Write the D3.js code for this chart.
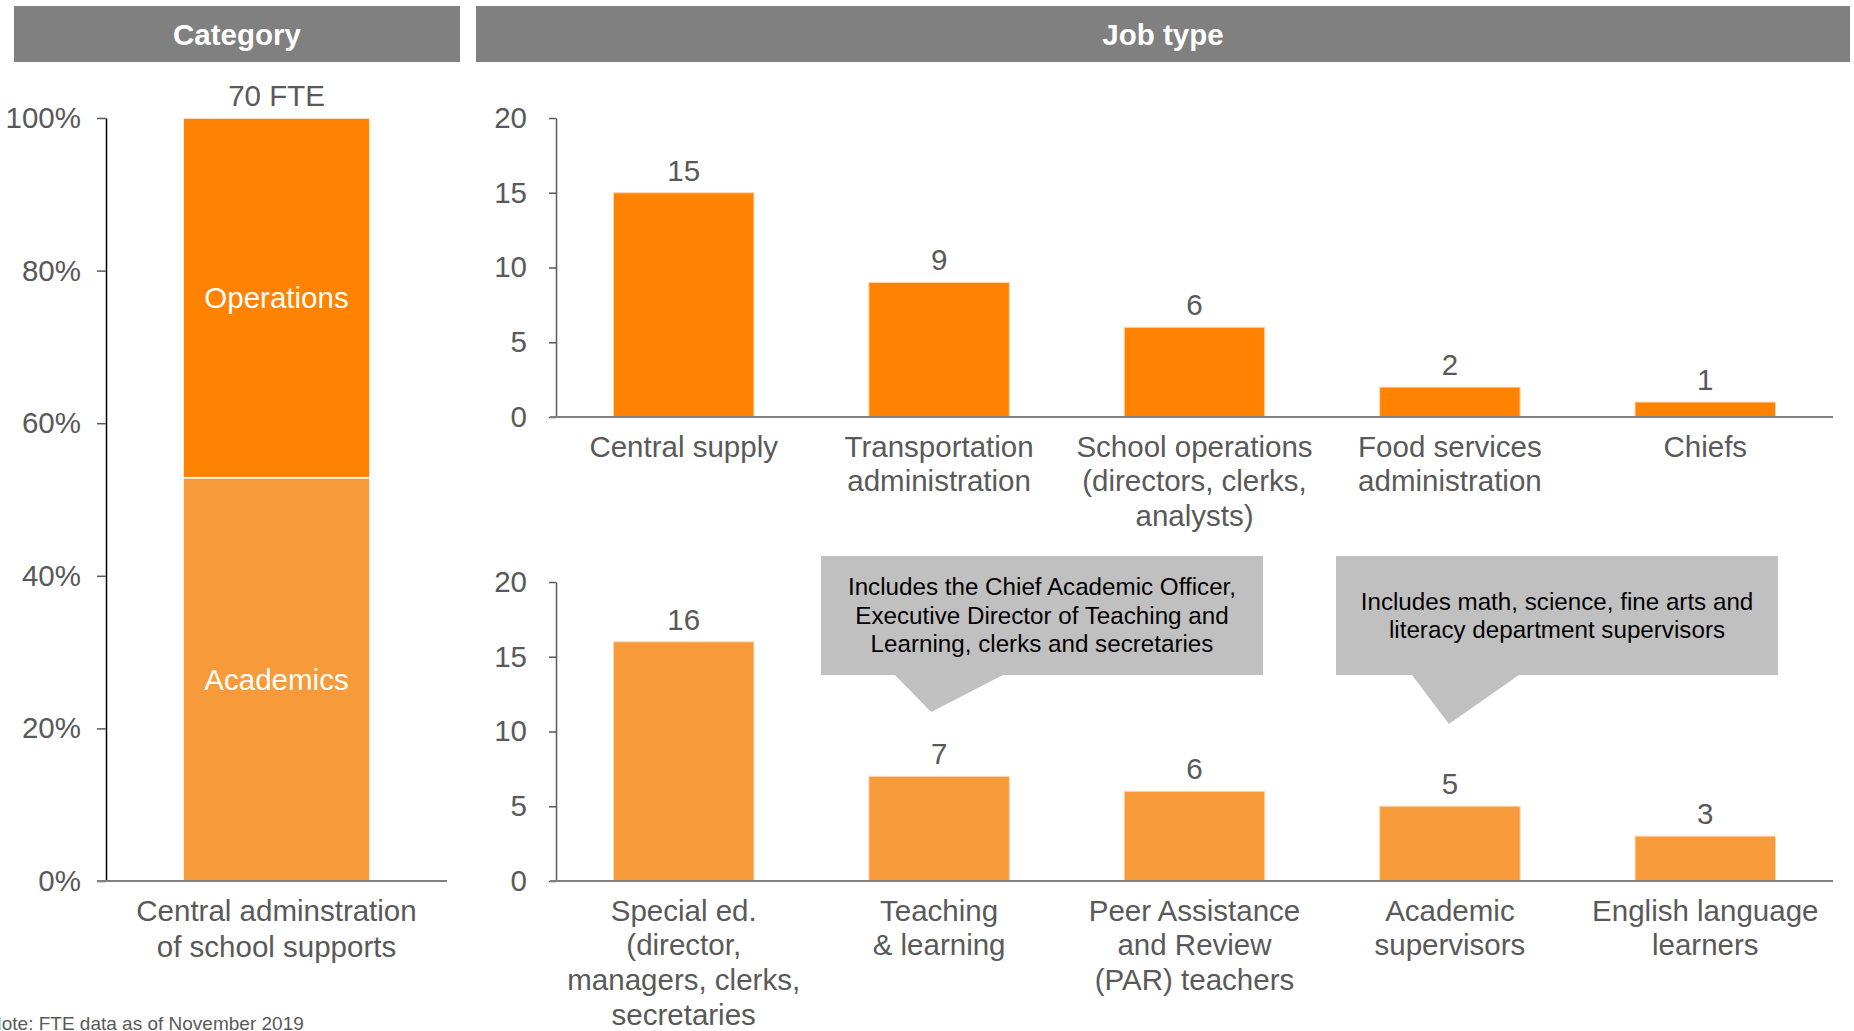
<!DOCTYPE html>
<html><head><meta charset="utf-8">
<script src="https://cdn.jsdelivr.net/npm/d3@7"></script>
<style>
html,body{margin:0;padding:0;background:#fff;overflow:hidden}
text{font-family:"Liberation Sans",Arial,sans-serif}
</style></head>
<body><svg id="c" width="1854" height="1031"></svg>
<script>
// ---- data ----
const categoryName = ["Central adminstration", "of school supports"];
const categoryTotal = "70 FTE";
const segments = ["Academics", "Operations"];
const segmentValues = [37, 33];
const pctTicks = [0, 0.2, 0.4, 0.6, 0.8, 1.0];

const opsJobs = [["Central supply"], ["Transportation", "administration"], ["School operations", "(directors, clerks,", "analysts)"], ["Food services", "administration"], ["Chiefs"]];
const opsValues = [15, 9, 6, 2, 1];
const acadJobs = [["Special ed.", "(director,", "managers, clerks,", "secretaries"], ["Teaching", "& learning"], ["Peer Assistance", "and Review", "(PAR) teachers"], ["Academic", "supervisors"], ["English language", "learners"]];
const acadValues = [16, 7, 6, 5, 3];
const countTicks = [0, 5, 10, 15, 20];

const callouts = [
  {job: 1, lines: ["Includes the Chief Academic Officer,", "Executive Director of Teaching and", "Learning, clerks and secretaries"]},
  {job: 3, lines: ["Includes math, science, fine arts and", "literacy department supervisors"]}
];
const headers = ["Category", "Job type"];
const note = "Note: FTE data as of November 2019";

// ---- style ----
const C_OPS = "#FF8200", C_ACAD = "#F79A3A", C_TXT = "#595959", C_HDR = "#808080", C_CALL = "#C0C0C0";
const FS = 29.5;
const svg = d3.select("#c");

// headers
const hdr = [[14, 460], [476, 1850]];
headers.forEach((h, i) => {
  svg.append("rect").attr("x", hdr[i][0]).attr("y", 6).attr("width", hdr[i][1] - hdr[i][0]).attr("height", 56).attr("fill", C_HDR);
  svg.append("text").attr("x", (hdr[i][0] + hdr[i][1]) / 2).attr("y", 35).attr("dy", "0.35em")
    .attr("text-anchor", "middle").attr("fill", "#fff").attr("font-weight", "bold").attr("font-size", FS).text(h);
});

// ---- left stacked chart ----
const total = d3.sum(segmentValues);
const yP = d3.scaleLinear().domain([0, 1]).range([881, 118]);
const xL = d3.scaleBand().domain(["cat"]).range([106, 447]).paddingInner(0.292).paddingOuter(0.292);
const stackData = [{}];
segments.forEach((s, i) => stackData[0][s] = segmentValues[i] / total);
const stacked = d3.stack().keys(segments)(stackData);
const segColor = {Academics: C_ACAD, Operations: C_OPS};
const gL = svg.append("g");
stacked.forEach(layer => {
  const d = layer[0];
  gL.append("rect").attr("x", xL("cat")).attr("width", xL.bandwidth())
    .attr("y", yP(d[1])).attr("height", yP(d[0]) - yP(d[1]))
    .attr("fill", segColor[layer.key]).attr("stroke", "#fff").attr("stroke-width", 1.5);
  gL.append("text").attr("x", xL("cat") + xL.bandwidth() / 2).attr("y", (yP(d[0]) + yP(d[1])) / 2)
    .attr("dy", "0.35em").attr("text-anchor", "middle").attr("fill", "#fff").attr("font-size", FS).text(layer.key);
});
gL.append("text").attr("x", xL("cat") + xL.bandwidth() / 2).attr("y", yP(1) - 12)
  .attr("text-anchor", "middle").attr("fill", C_TXT).attr("font-size", FS).text(categoryTotal);
const axL = gL.append("g").attr("transform", "translate(106,0)")
  .call(d3.axisLeft(yP).tickValues(pctTicks).tickFormat(d3.format(".0%")).tickSizeInner(9).tickSizeOuter(0).tickPadding(16));
axL.select(".domain").attr("stroke", "#000").attr("stroke-width", 1.5);
axL.selectAll(".tick line").attr("stroke", "#595959").attr("stroke-width", 1.5);
axL.selectAll(".tick text").attr("fill", C_TXT).attr("font-size", FS).attr("font-family", "Liberation Sans, Arial, sans-serif");
gL.append("line").attr("x1", 97).attr("x2", 447).attr("y1", 881).attr("y2", 881).attr("stroke", "#808080").attr("stroke-width", 2);
categoryName.forEach((t, i) => gL.append("text").attr("x", xL("cat") + xL.bandwidth() / 2).attr("y", 921 + i * 35.5)
  .attr("text-anchor", "middle").attr("fill", C_TXT).attr("font-size", FS).text(t));

// ---- right charts ----
function barChart(jobs, values, color, y0, y1) {
  const keys = jobs.map(j => j.join(" "));
  const x = d3.scaleBand().domain(keys).range([556, 1833]).paddingInner(0.45).paddingOuter(0.225);
  const y = d3.scaleLinear().domain([0, 20]).range([y0, y1]);
  const g = svg.append("g");
  g.selectAll("rect.bar").data(values).join("rect").attr("class", "bar")
    .attr("x", (d, i) => x(keys[i])).attr("width", x.bandwidth())
    .attr("y", d => y(d)).attr("height", d => y(0) - y(d))
    .attr("fill", color).attr("stroke", "#FBD7B0").attr("stroke-width", 1);
  g.selectAll("text.val").data(values).join("text").attr("class", "val")
    .attr("x", (d, i) => x(keys[i]) + x.bandwidth() / 2).attr("y", d => y(d) - 12)
    .attr("text-anchor", "middle").attr("fill", C_TXT).attr("font-size", FS).text(d => d);
  const ax = g.append("g").attr("transform", "translate(556,0)")
    .call(d3.axisLeft(y).tickValues(countTicks).tickSizeInner(7).tickSizeOuter(0).tickPadding(22));
  ax.select(".domain").attr("stroke", "#595959").attr("stroke-width", 1.5);
  ax.selectAll(".tick line").attr("stroke", "#595959").attr("stroke-width", 1.5);
  ax.selectAll(".tick text").attr("fill", C_TXT).attr("font-size", FS).attr("font-family", "Liberation Sans, Arial, sans-serif");
  g.append("line").attr("x1", 550).attr("x2", 1833).attr("y1", y(0)).attr("y2", y(0)).attr("stroke", "#808080").attr("stroke-width", 2);
  jobs.forEach((lines, i) => lines.forEach((t, k) => g.append("text")
    .attr("x", x(keys[i]) + x.bandwidth() / 2).attr("y", y(0) + 39.5 + k * 34.8)
    .attr("text-anchor", "middle").attr("fill", C_TXT).attr("font-size", FS).text(t)));
  return {x, y, keys};
}
barChart(opsJobs, opsValues, C_OPS, 417, 118);
const bot = barChart(acadJobs, acadValues, C_ACAD, 881, 582);

// callouts
const boxes = [{x0: 821, x1: 1263, b0: 895, b1: 1003, tipDx: -8, tipY: 712},
               {x0: 1336, x1: 1778, b0: 1412, b1: 1519, tipDx: -1, tipY: 724}];
callouts.forEach((c, i) => {
  const b = boxes[i], top = 556, bottom = 675;
  const tipX = bot.x(bot.keys[c.job]) + bot.x.bandwidth() / 2 + b.tipDx;
  const pts = [[b.x0, top], [b.x1, top], [b.x1, bottom], [b.b1, bottom], [tipX, b.tipY], [b.b0, bottom], [b.x0, bottom]];
  svg.append("path").attr("d", d3.line()(pts) + "Z").attr("fill", C_CALL);
  const n = c.lines.length, cy = (top + bottom) / 2;
  c.lines.forEach((t, k) => svg.append("text").attr("x", (b.x0 + b.x1) / 2)
    .attr("y", cy + (k - (n - 1) / 2) * 28.5).attr("dy", "0.35em")
    .attr("text-anchor", "middle").attr("fill", "#000").attr("font-size", 24.2).text(t));
});

// note (cut at the left edge, as in the source)
svg.append("text").attr("x", -12).attr("y", 1030).attr("fill", C_TXT).attr("font-size", 19).text(note);
</script></body></html>
